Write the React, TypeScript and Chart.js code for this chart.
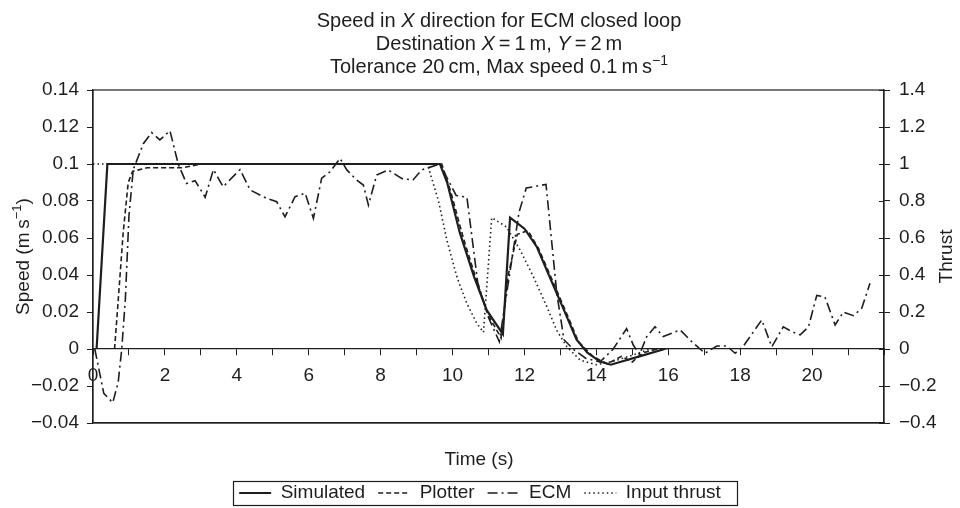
import React, { useEffect, useRef } from 'react';
import { Chart, registerables } from 'chart.js';

Chart.register(...registerables);

const FONT = "'Liberation Sans', Arial, Helvetica, sans-serif";
const INK = '#1e1e1e';
const FS = 19;
const TITLE_FS = 20;

type Seg = { t: string; it?: boolean; sup?: boolean };

// ---- text ----
const titleLine1: Seg[] = [{ t: 'Speed in ' }, { t: 'X', it: true }, { t: ' direction for ECM closed loop' }];
const titleLine2: Seg[] = [{ t: 'Destination ' }, { t: 'X', it: true }, { t: '\u2009=\u20091\u2009m, ' }, { t: 'Y', it: true }, { t: '\u2009=\u20092\u2009m' }];
const titleLine3: Seg[] = [{ t: 'Tolerance 20\u2009cm, Max speed 0.1\u2009m\u2009s' }, { t: '\u22121', sup: true }];
const leftTitle: Seg[] = [{ t: 'Speed (m\u2009s' }, { t: '\u22121', sup: true }, { t: ')' }];
const rightTitle: Seg[] = [{ t: 'Thrust' }];
const xTitle: Seg[] = [{ t: 'Time (s)' }];

const seriesNames = ['Simulated', 'Plotter', 'ECM', 'Input thrust'];

// ---- tick labels ----
const speedTickLabels = ['\u22120.04', '\u22120.02', '0', '0.02', '0.04', '0.06', '0.08', '0.1', '0.12', '0.14'];
const thrustTickLabels = ['\u22120.4', '\u22120.2', '0', '0.2', '0.4', '0.6', '0.8', '1', '1.2', '1.4'];
const timeTickLabels = ['0', '', '2', '', '4', '', '6', '', '8', '', '10', '', '12', '', '14', '', '16', '', '18', '', '20', '', ''];

// ---- data ----
const simTime = [0.1, 0.4, 9.65, 9.85, 10.2, 10.6, 10.95, 11.4, 11.6, 12.0, 12.35, 12.7, 13.1, 13.45, 13.75, 14.1, 14.4, 15.2, 15.9];
const simSpeed = [0, 0.1, 0.1, 0.09, 0.063, 0.039, 0.021, 0.008, 0.071, 0.065, 0.055, 0.039, 0.021, 0.005, -0.002, -0.0068, -0.0085, -0.004, 0];

const plotTime = [0.6, 0.7, 0.84, 0.98, 1.1, 1.5, 2.5, 3.0, 9.7, 9.95, 10.3, 10.7, 11.0, 11.35, 11.55, 11.8, 12.1, 12.4, 12.8, 13.2, 13.5, 13.9, 14.3, 14.7, 15.0, 15.3, 15.7, 16.0];
const plotSpeed = [0, 0.026, 0.063, 0.09, 0.096, 0.098, 0.098, 0.1, 0.1, 0.085, 0.06, 0.035, 0.018, 0.006, 0.04, 0.062, 0.064, 0.054, 0.036, 0.018, 0.004, -0.004, -0.008, -0.004, -0.007, -0.002, 0.0, 0];

const ecmTime = [0.05, 0.3, 0.55, 0.7, 0.8, 0.9, 1.0, 1.12, 1.4, 1.63, 1.86, 2.14, 2.37, 2.6, 2.84, 3.12, 3.35, 3.62, 4.09, 4.37, 4.83, 5.11, 5.34, 5.62, 5.9, 6.13, 6.36, 6.59, 6.87, 7.06, 7.33, 7.52, 7.66, 7.89, 8.21, 8.6, 8.9, 9.14, 9.65, 10.1, 10.4, 10.7, 11.0, 11.3, 11.6, 11.85, 12.05, 12.6, 12.9, 13.1, 13.35, 13.7, 14.1, 14.47, 14.84, 15.03, 15.2, 15.4, 15.63, 15.86, 16.33, 16.65, 17.02, 17.35, 17.63, 17.86, 18.09, 18.6, 18.88, 19.2, 19.43, 19.67, 19.9, 20.13, 20.36, 20.64, 20.87, 21.15, 21.38, 21.61];
const ecmSpeed = [0, -0.024, -0.029, -0.018, 0, 0.027, 0.072, 0.097, 0.111, 0.117, 0.113, 0.118, 0.1, 0.0895, 0.091, 0.082, 0.097, 0.0877, 0.097, 0.086, 0.0814, 0.0796, 0.0715, 0.0823, 0.0842, 0.0706, 0.0923, 0.0958, 0.103, 0.0968, 0.0914, 0.0886, 0.0778, 0.094, 0.0968, 0.092, 0.0914, 0.0968, 0.1, 0.083, 0.082, 0.036, 0.017, 0.004, 0.042, 0.074, 0.087, 0.089, 0.03, 0.005, 0, -0.005, -0.007, 0, 0.011, 0.002, -0.003, 0.0067, 0.012, 0.0067, 0.0103, 0.004, -0.0023, 0.0016, 0.0016, -0.0023, 0.0016, 0.0157, 0.0012, 0.012, 0.0094, 0.0076, 0.012, 0.029, 0.028, 0.013, 0.02, 0.018, 0.022, 0.0355];

const thrustTime = [0, 9.3, 9.61, 9.84, 10.12, 10.39, 10.67, 10.86, 11.09, 11.5, 11.88, 12.25, 12.62, 12.9, 13.18, 13.55, 14.0, 14.4, 14.9, 15.5, 16.0];
const thrustValue = [1, 1, 0.8, 0.59, 0.39, 0.25, 0.14, 0.09, 0.71, 0.66, 0.535, 0.39, 0.23, 0.1, 0.012, -0.06, -0.085, -0.07, -0.04, 0, 0];

const pts = (xs: number[], ys: number[]) => xs.map((x, i) => ({ x, y: ys[i] }));

function drawRich(ctx: CanvasRenderingContext2D, segs: Seg[], cx: number, cy: number, size: number) {
  const fontFor = (s: Seg) => `${s.it ? 'italic ' : ''}${s.sup ? Math.round(size * 0.68) : size}px ${FONT}`;
  let total = 0;
  for (const s of segs) {
    ctx.font = fontFor(s);
    total += ctx.measureText(s.t).width;
  }
  let x = cx - total / 2;
  const base = cy + size * 0.36;
  ctx.textAlign = 'left';
  ctx.textBaseline = 'alphabetic';
  for (const s of segs) {
    ctx.font = fontFor(s);
    ctx.fillText(s.t, x, s.sup ? base - size * 0.42 : base);
    x += ctx.measureText(s.t).width;
  }
}

const decorPlugin = {
  id: 'decor',
  beforeDatasetsDraw(chart: any) {
    const { ctx, chartArea } = chart;
    ctx.save();
    ctx.strokeStyle = INK;
    ctx.lineWidth = 1.2;
    ctx.strokeRect(chartArea.left, chartArea.top, chartArea.right - chartArea.left, chartArea.bottom - chartArea.top);
    // inner halves of the right-axis ticks
    const y2 = chart.scales.y2;
    ctx.lineWidth = 1;
    y2.ticks.forEach((t: any) => {
      const py = Math.round(y2.getPixelForValue(t.value)) + 0.5;
      ctx.beginPath();
      ctx.moveTo(chartArea.right - 5, py);
      ctx.lineTo(chartArea.right, py);
      ctx.stroke();
    });
    ctx.restore();
  },
  afterDraw(chart: any) {
    const { ctx, chartArea } = chart;
    ctx.save();
    ctx.fillStyle = INK;
    drawRich(ctx, titleLine1, 499, 20, TITLE_FS);
    drawRich(ctx, titleLine2, 499, 43, TITLE_FS);
    drawRich(ctx, titleLine3, 499, 66, TITLE_FS);
    const midY = (chartArea.top + chartArea.bottom) / 2;
    drawRich(ctx, xTitle, 479, 458, FS);
    ctx.save();
    ctx.translate(22, midY);
    ctx.rotate(-Math.PI / 2);
    drawRich(ctx, leftTitle, 0, 0, FS);
    ctx.restore();
    ctx.save();
    ctx.translate(945, midY);
    ctx.rotate(-Math.PI / 2);
    drawRich(ctx, rightTitle, 0, 0, FS);
    ctx.restore();
    // legend frame
    const lg = chart.legend;
    if (lg && lg.legendHitBoxes && lg.legendHitBoxes.length) {
      const hb = lg.legendHitBoxes;
      const first = hb[0];
      const last = hb[hb.length - 1];
      const cy = first.top + first.height / 2;
      const l = first.left - 6;
      const r = last.left + last.width + 16;
      ctx.strokeStyle = INK;
      ctx.lineWidth = 1.2;
      ctx.strokeRect(Math.round(l) + 0.5, Math.round(cy - 12) + 0.5, Math.round(r - l), 24);
    }
    ctx.restore();
  },
};

export default function App() {
  const ref = useRef<HTMLCanvasElement>(null);
  useEffect(() => {
    const tickFont = { family: FONT, size: FS };
    const common = { pointRadius: 0, borderColor: INK, backgroundColor: INK, tension: 0, fill: false };
    const chart = new Chart(ref.current as HTMLCanvasElement, {
      type: 'line',
      data: {
        datasets: [
          { ...common, label: seriesNames[0], data: pts(simTime, simSpeed), borderWidth: 2.2, yAxisID: 'y' },
          { ...common, label: seriesNames[1], data: pts(plotTime, plotSpeed), borderWidth: 1.6, borderDash: [5, 3], yAxisID: 'y' },
          { ...common, label: seriesNames[2], data: pts(ecmTime, ecmSpeed), borderWidth: 1.6, borderDash: [10, 4, 2, 4], yAxisID: 'y' },
          { ...common, label: seriesNames[3], data: pts(thrustTime, thrustValue), borderWidth: 1.6, borderDash: [1.5, 3], yAxisID: 'y2' },
        ],
      },
      options: {
        animation: false,
        responsive: false,
        devicePixelRatio: 1,
        layout: { padding: { top: 90, left: 0, right: 0, bottom: 0 } },
        plugins: {
          title: { display: false },
          tooltip: { enabled: false },
          legend: {
            position: 'bottom',
            maxHeight: 37.5,
            labels: {
              usePointStyle: true,
              pointStyle: 'line',
              pointStyleWidth: 32,
              padding: 13,
              color: INK,
              font: tickFont,
              generateLabels: (c: any) => {
                const base = (Chart.defaults as any).plugins.legend.labels.generateLabels(c);
                return base.map((item: any, i: number) => {
                  const ds = c.data.datasets[i];
                  return {
                    ...item,
                    pointStyle: 'line',
                    lineDash: ds.borderDash || [],
                    lineWidth: ds.borderWidth,
                    strokeStyle: INK,
                    fillStyle: INK,
                  };
                });
              },
            },
          },
        },
        scales: {
          x: {
            type: 'linear',
            min: 0,
            max: 22,
            position: { y: 0 },
            grid: { display: true, drawOnChartArea: false, drawTicks: true, tickLength: 6, color: INK, lineWidth: 1 },
            border: { display: true, color: INK, width: 1.2 },
            ticks: {
              stepSize: 1,
              autoSkip: false,
              maxRotation: 0,
              padding: 9,
              color: INK,
              font: tickFont,
              callback: (v: any, i: number) => timeTickLabels[i] ?? '',
            },
          },
          x2: {
            type: 'linear',
            display: true,
            min: 0,
            max: 22,
            position: 'bottom',
            grid: { display: false },
            border: { display: true, color: INK, width: 1.2 },
            ticks: { display: false },
            afterFit: (s: any) => { s.height = 47.5; },
          },
          y: {
            type: 'linear',
            position: 'left',
            min: -0.04,
            max: 0.14,
            grid: { drawOnChartArea: false, tickLength: 6, color: INK, lineWidth: 1 },
            border: { display: true, color: INK, width: 1.2 },
            ticks: {
              stepSize: 0.02,
              padding: 8,
              color: INK,
              font: tickFont,
              callback: (v: any, i: number) => speedTickLabels[i] ?? '',
            },
            afterFit: (s: any) => { s.width = 93; },
          },
          y2: {
            type: 'linear',
            position: 'right',
            min: -0.4,
            max: 1.4,
            grid: { drawOnChartArea: false, tickLength: 6, color: INK, lineWidth: 1 },
            border: { display: true, color: INK, width: 1.2 },
            ticks: {
              stepSize: 0.2,
              padding: 9,
              color: INK,
              font: tickFont,
              callback: (v: any, i: number) => thrustTickLabels[i] ?? '',
            },
            afterFit: (s: any) => { s.width = 76; },
          },
        },
      } as any,
      plugins: [decorPlugin],
    });
    return () => chart.destroy();
  }, []);
  return (
    <div style={{ position: 'fixed', left: 0, top: 0, width: 960, height: 508, background: '#fff' }}>
      <canvas ref={ref} width={960} height={508} style={{ display: 'block', width: 960, height: 508 }} />
    </div>
  );
}
